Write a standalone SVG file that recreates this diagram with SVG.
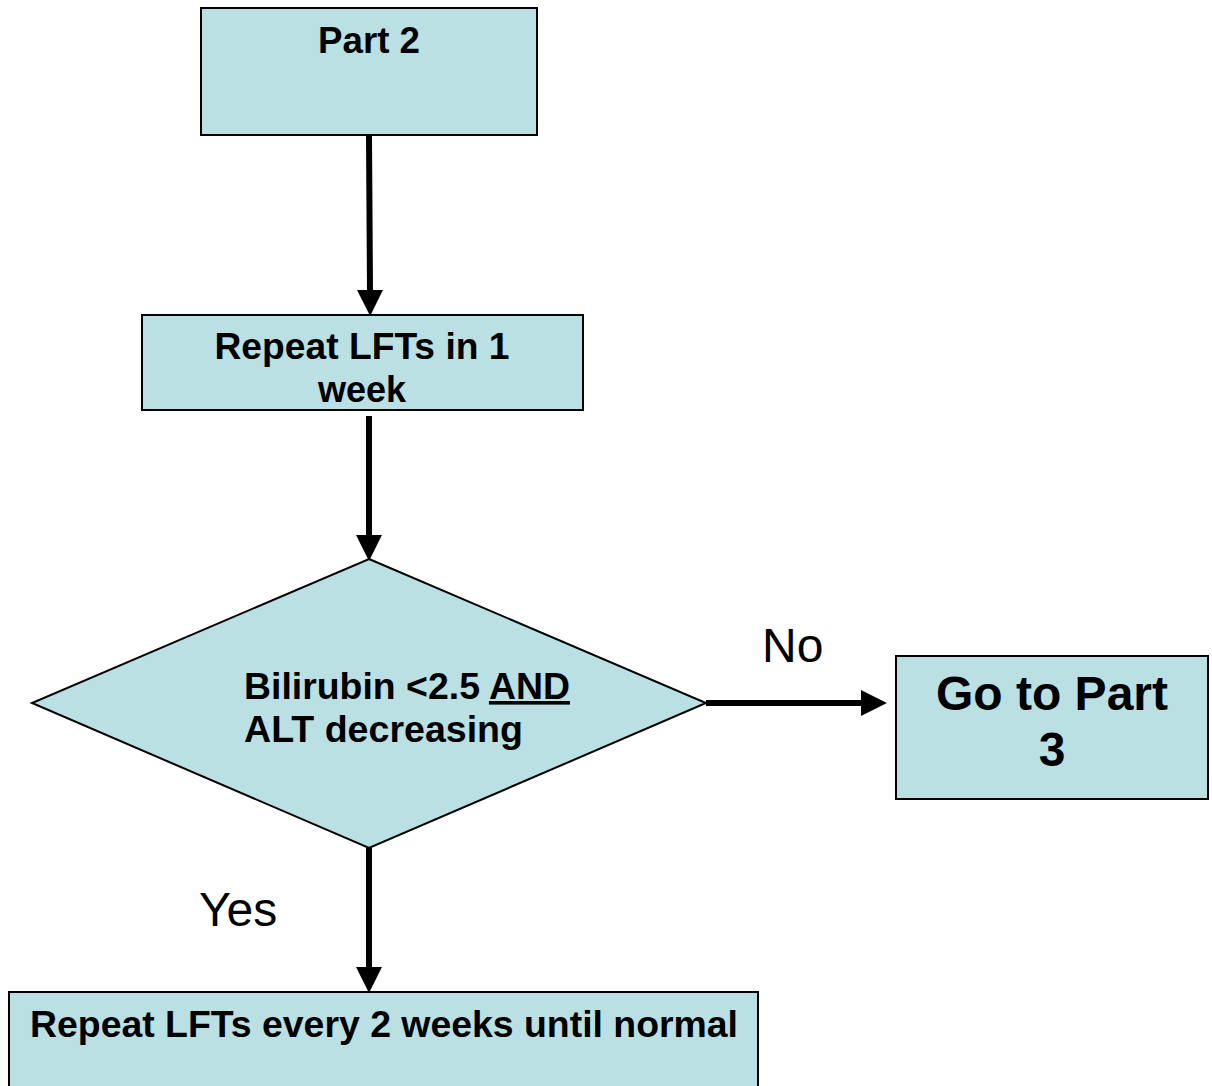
<svg xmlns="http://www.w3.org/2000/svg" width="1212" height="1086" viewBox="0 0 1212 1086">
  <style>
    .box { fill: #BBE0E3; stroke: #000; stroke-width: 2; }
    .b { font-family: "Liberation Sans", Arial, sans-serif; font-weight: bold; fill: #000; }
    .r { font-family: "Liberation Sans", Arial, sans-serif; font-weight: normal; fill: #000; }
    .conn { stroke: #000; stroke-width: 6; fill: none; }
  </style>
  <defs>
    <marker id="ah" markerUnits="userSpaceOnUse" markerWidth="26" markerHeight="26" refX="1" refY="12" orient="auto" viewBox="0 0 24 24">
      <path d="M0,0 L24,12 L0,24 Z" fill="#000"/>
    </marker>
  </defs>
  <rect width="1212" height="1086" fill="#fff"/>

  <g id="connectors">
    <line class="conn" x1="369" y1="136" x2="370" y2="291" marker-end="url(#ah)"/>
    <line class="conn" x1="369" y1="416" x2="369" y2="536" marker-end="url(#ah)"/>
    <line class="conn" x1="706" y1="703" x2="862" y2="703" marker-end="url(#ah)"/>
    <line class="conn" x1="369" y1="848" x2="369" y2="968" marker-end="url(#ah)"/>
    <text class="r" x="762" y="662" font-size="48">No</text>
    <text class="r" x="199" y="926" font-size="48">Yes</text>
  </g>

  <g id="part2">
    <rect class="box" x="201" y="8" width="336" height="127"/>
    <text class="b" x="369" y="53" font-size="36" text-anchor="middle" textLength="102" lengthAdjust="spacingAndGlyphs">Part 2</text>
  </g>

  <g id="repeat1week">
    <rect class="box" x="142" y="315" width="441" height="95"/>
    <text class="b" x="362" y="359" font-size="36" text-anchor="middle" textLength="295" lengthAdjust="spacingAndGlyphs">Repeat LFTs in 1</text>
    <text class="b" x="362" y="402" font-size="36" text-anchor="middle">week</text>
  </g>

  <g id="decision">
    <polygon class="box" points="369,559 706,703 369,848 32,703"/>
    <text class="b" x="244" y="699" font-size="36" textLength="326" lengthAdjust="spacingAndGlyphs">Bilirubin &lt;2.5 <tspan text-decoration="underline">AND</tspan></text>
    <text class="b" x="244" y="742" font-size="36" textLength="279" lengthAdjust="spacingAndGlyphs">ALT decreasing</text>
  </g>

  <g id="part3">
    <rect class="box" x="896" y="656" width="312" height="143"/>
    <text class="b" x="1052" y="710" font-size="48" text-anchor="middle">Go to Part</text>
    <text class="b" x="1052" y="766" font-size="48" text-anchor="middle">3</text>
  </g>

  <g id="repeat2weeks">
    <rect class="box" x="9" y="992" width="749" height="100"/>
    <text class="b" x="384" y="1037" font-size="36" text-anchor="middle" textLength="708" lengthAdjust="spacingAndGlyphs">Repeat LFTs every 2 weeks until normal</text>
  </g>
</svg>
